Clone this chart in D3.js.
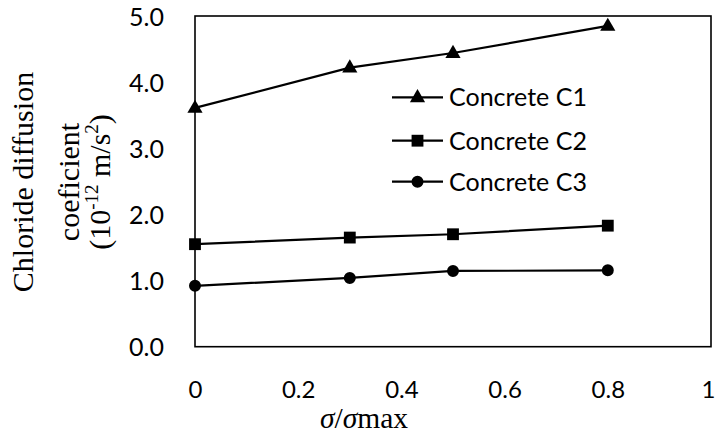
<!DOCTYPE html>
<html><head><meta charset="utf-8">
<script src="https://cdn.jsdelivr.net/npm/d3@7"></script>
<style>body{margin:0;background:#fff}svg{display:block}</style>
</head><body>
<script>
const xValues = [0, 0.3, 0.5, 0.8];
const seriesNames = ["Concrete C1", "Concrete C2", "Concrete C3"];
const c1 = [3.61, 4.22, 4.44, 4.85];
const c2 = [1.55, 1.65, 1.70, 1.83];
const c3 = [0.92, 1.04, 1.145, 1.155];
const xTicks = [0, 0.2, 0.4, 0.6, 0.8, 1];
const yTicks = [0, 1, 2, 3, 4, 5];
const symbols = [d3.symbolTriangle, d3.symbolSquare, d3.symbolCircle];
const symSizes = [100, 140, 113];

const W = 717, H = 434;
const svg = d3.select("body").append("svg").attr("width", W).attr("height", H);
const x = d3.scaleLinear().domain([0, 1]).range([195, 711]);
const y = d3.scaleLinear().domain([0, 5]).range([346.7, 16]);

svg.append("rect").attr("x", x(0)).attr("y", y(5)).attr("width", x(1) - x(0)).attr("height", y(0) - y(5))
  .attr("fill", "none").attr("stroke", "#000").attr("stroke-width", 1.6);

const tickFont = "Lato, 'Open Sans', sans-serif";
const yAxis = d3.axisLeft(y).tickValues(yTicks).tickFormat(d3.format(".1f")).tickSize(0).tickPadding(31);
const gy = svg.append("g").attr("transform", `translate(${x(0)},0)`).call(yAxis);
gy.select(".domain").remove();
gy.selectAll("text").attr("font-family", tickFont).attr("font-size", 25).attr("fill", "#000").attr("dy", "0.36em");

const xAxis = d3.axisBottom(x).tickValues(xTicks).tickFormat(d => d === 0 || d === 1 ? String(d) : d3.format(".1f")(d)).tickSize(0).tickPadding(0);
const gx = svg.append("g").attr("transform", `translate(0,${y(0)})`).call(xAxis);
gx.select(".domain").remove();
gx.selectAll("text").attr("font-family", tickFont).attr("font-size", 24).attr("fill", "#000")
  .attr("y", 51.5).attr("dy", 0).attr("dx", d => d === 1 ? -3 : 0);

const data = [c1, c2, c3];
const line = d3.line().x((d, i) => x(xValues[i])).y(d => y(d));
data.forEach((s, k) => {
  svg.append("path").attr("d", line(s)).attr("fill", "none").attr("stroke", "#000").attr("stroke-width", 2.2);
  svg.selectAll(null).data(s).enter().append("path")
    .attr("d", d3.symbol().type(symbols[k]).size(symSizes[k]))
    .attr("transform", (d, i) => `translate(${x(xValues[i])},${y(d) + (k === 0 ? 0.5 : 0)})`)
    .attr("fill", "#000");
});

const legY = [97.3, 140.7, 181.7];
seriesNames.forEach((n, k) => {
  const g = svg.append("g");
  g.append("line").attr("x1", 392).attr("x2", 443).attr("y1", legY[k]).attr("y2", legY[k]).attr("stroke", "#000").attr("stroke-width", 2.2);
  g.append("path").attr("d", d3.symbol().type(symbols[k]).size(symSizes[k])).attr("transform", `translate(417.5,${legY[k] + (k === 0 ? 0.5 : 0)})`).attr("fill", "#000");
  g.append("text").attr("x", 449).attr("y", legY[k]).attr("dy", "0.36em").attr("font-family", tickFont).attr("font-size", 25).text(n);
});

const serif = "'Liberation Serif', 'Times New Roman', serif";
const xt = svg.append("text").attr("x", 364).attr("y", 428).attr("text-anchor", "middle")
  .attr("font-family", serif).attr("font-size", 29.5);
xt.append("tspan").attr("font-style", "italic").text("σ");
xt.append("tspan").text("/");
xt.append("tspan").attr("font-style", "italic").text("σ");
xt.append("tspan").text("max");

const yt = svg.append("g").attr("transform", "translate(0,182) rotate(-90)");
yt.append("text").attr("x", 0).attr("y", 33).attr("text-anchor", "middle").attr("font-family", serif).attr("font-size", 30).text("Chloride diffusion");
yt.append("text").attr("x", 0).attr("y", 79).attr("text-anchor", "middle").attr("font-family", serif).attr("font-size", 30).text("coeficient");
const t3 = yt.append("text").attr("x", 0).attr("y", 110).attr("text-anchor", "middle").attr("font-family", serif).attr("font-size", 30);
t3.append("tspan").text("(10");
t3.append("tspan").attr("font-size", 19).attr("dy", -12).text("-12");
t3.append("tspan").attr("dy", 12).text(" m/s");
t3.append("tspan").attr("font-size", 19).attr("dy", -12).text("2");
t3.append("tspan").attr("dy", 12).text(")");
</script>
</body></html>
